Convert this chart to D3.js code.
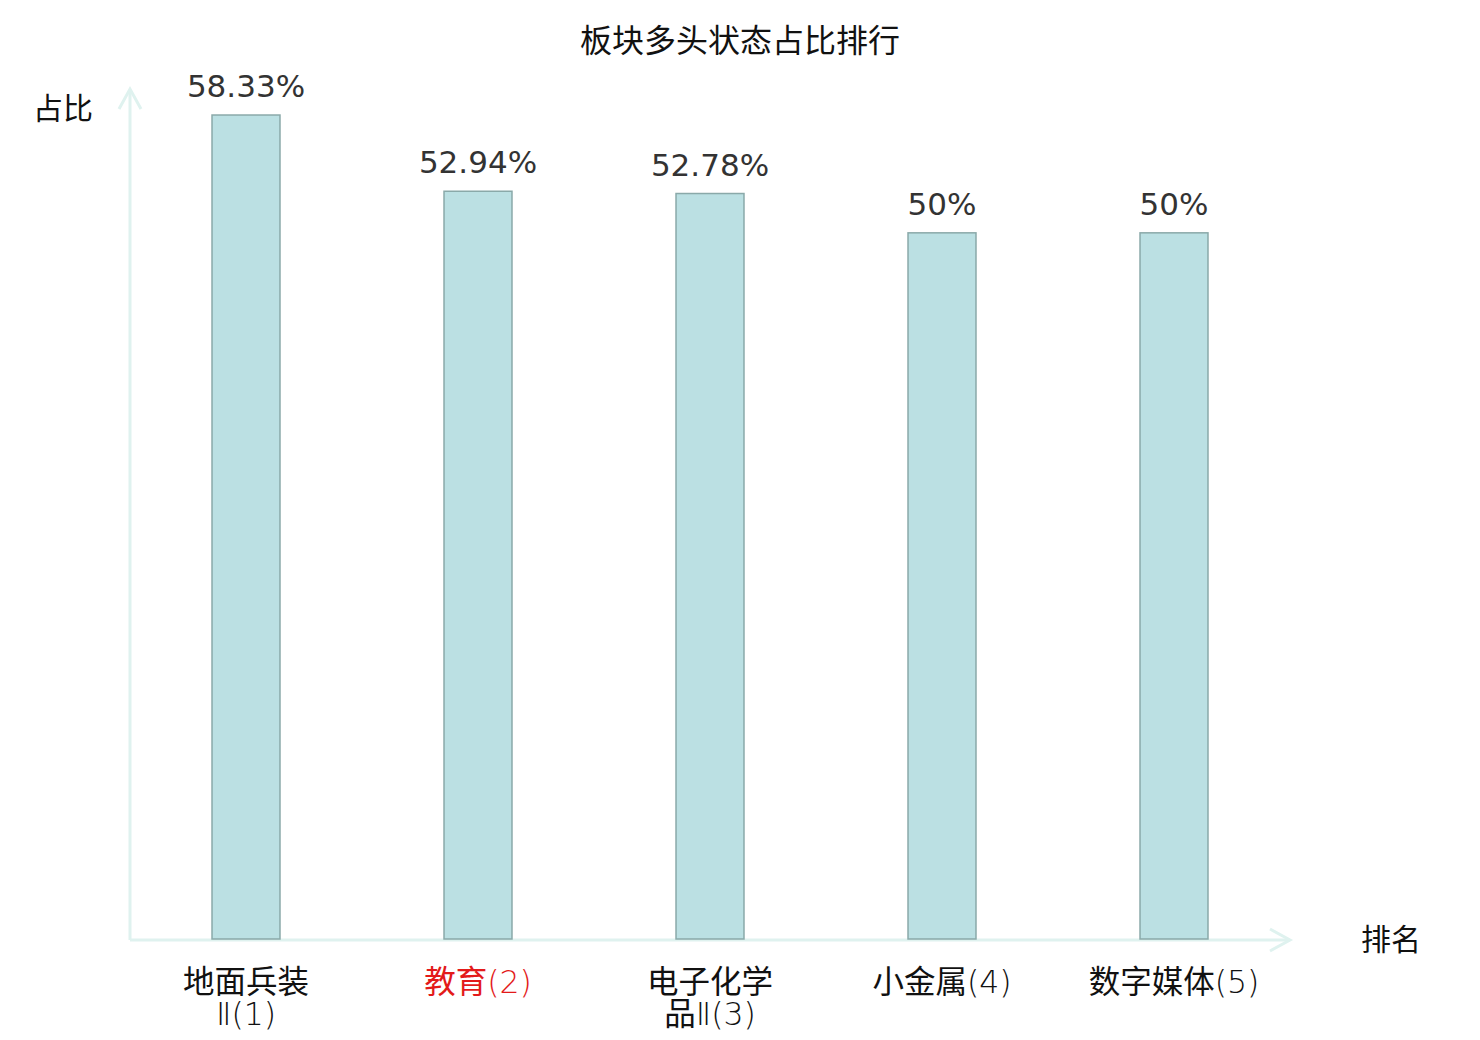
<!DOCTYPE html>
<html><head><meta charset="utf-8">
<script src="https://cdn.jsdelivr.net/npm/d3@7/dist/d3.min.js"></script>
<style>html,body{margin:0;padding:0;background:#fff}</style>
</head><body>
<svg id="c" width="1480" height="1040"></svg>
<script>
const names = ["地面兵装Ⅱ", "教育", "电子化学品Ⅱ", "小金属", "数字媒体"];
const ranks = [1, 2, 3, 4, 5];
const values = [58.33, 52.94, 52.78, 50, 50];
const valueLabels = ["58.33%", "52.94%", "52.78%", "50%", "50%"];
const highlightName = "教育";
const title = "板块多头状态占比排行";
const yName = "占比";
const xName = "排名";

const svg = d3.select("#c");
const x0 = 130, x1 = 1290, yBase = 940;
const x = d3.scaleBand().domain(names).range([x0, x1]).paddingInner(0.707).paddingOuter(0.3535);
const y = d3.scaleLinear().domain([0, 60]).range([yBase, 91.4]);
const axisColor = "#dff2ef";

svg.append("text").attr("x", 740).attr("y", 43).attr("text-anchor", "middle")
  .attr("dominant-baseline", "middle")
  .style("font-family", "'Noto Sans CJK SC'").style("font-size", "32px").attr("fill", "#111")
  .text(title);

// axes
svg.append("line").attr("x1", x0).attr("x2", x0).attr("y1", yBase).attr("y2", 89)
  .attr("stroke", axisColor).attr("stroke-width", 3);
svg.append("path").attr("d", `M${x0-11},${109}L${x0},${89}L${x0+11},${109}`)
  .attr("fill", "none").attr("stroke", axisColor).attr("stroke-width", 3);
svg.append("line").attr("x1", x0).attr("x2", x1).attr("y1", yBase).attr("y2", yBase)
  .attr("stroke", axisColor).attr("stroke-width", 3);
svg.append("path").attr("d", `M${x1-20},${yBase-11}L${x1},${yBase}L${x1-20},${yBase+11}`)
  .attr("fill", "none").attr("stroke", axisColor).attr("stroke-width", 3);

svg.append("text").attr("x", 63).attr("y", 111).attr("text-anchor", "middle")
  .attr("dominant-baseline", "middle")
  .style("font-family", "'Noto Sans CJK SC'").style("font-size", "30px").attr("fill", "#111")
  .text(yName);
svg.append("text").attr("x", 1391).attr("y", 942).attr("text-anchor", "middle")
  .attr("dominant-baseline", "middle")
  .style("font-family", "'Noto Sans CJK SC'").style("font-size", "30px").attr("fill", "#111")
  .text(xName);

// bars
svg.selectAll("rect.bar").data(names).join("rect").attr("class", "bar")
  .attr("x", d => x(d)).attr("width", x.bandwidth())
  .attr("y", (d, i) => y(values[i])).attr("height", (d, i) => yBase - 1 - y(values[i]))
  .attr("fill", "#bbe0e3").attr("stroke", "#8aa9a9").attr("stroke-width", 1.5);

svg.selectAll("text.val").data(names).join("text").attr("class", "val")
  .attr("x", d => x(d) + x.bandwidth() / 2).attr("y", (d, i) => y(values[i]) - 18)
  .attr("text-anchor", "middle")
  .style("font-family", "'DejaVu Sans'").style("font-size", "31px").attr("fill", "#333")
  .text((d, i) => valueLabels[i]);

// category labels, names broken into 4-character lines, rank appended
names.forEach((n, i) => {
  const chars = Array.from(n);
  const lines = [];
  for (let k = 0; k < chars.length; k += 4) lines.push(chars.slice(k, k + 4).join(""));
  lines[lines.length - 1] += `(${ranks[i]})`;
  lines.forEach((l, j) => {
    const t = svg.append("text").attr("text-anchor", "middle")
      .attr("x", x(n) + x.bandwidth() / 2).attr("y", 984 + j * 32)
      .attr("dominant-baseline", "middle")
      .style("font-family", "'Noto Sans CJK SC'").style("font-size", "31.5px")
      .attr("fill", n === highlightName ? "#e31a1a" : "#111");
    const parts = l.match(/[\u4e00-\u9fff]+|[^\u4e00-\u9fff]+/g);
    parts.forEach(p => {
      const s = t.append("tspan").text(p);
      if (!/[\u4e00-\u9fff]/.test(p)) {
        s.style("font-family", "'DejaVu Sans'").style("font-weight", "200");
      }
    });
  });
});
</script>
</body></html>
